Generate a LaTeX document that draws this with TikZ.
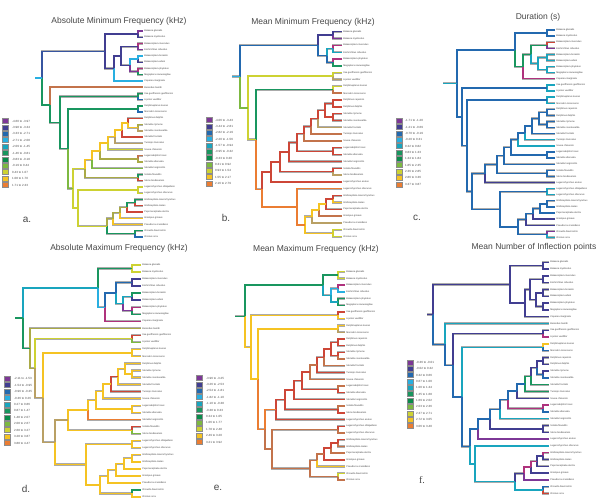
\documentclass[tikz,border=0pt]{standalone}
\usepackage{fontspec}
\setmainfont{Liberation Sans}
\newfontfamily\serifpl{Liberation Serif}
\usetikzlibrary{calc}
\definecolor{kP}{RGB}{125,55,150}
\definecolor{kI}{RGB}{65,62,145}
\definecolor{kB}{RGB}{35,105,175}
\definecolor{kL}{RGB}{40,175,225}
\definecolor{kC}{RGB}{25,165,190}
\definecolor{kG}{RGB}{25,150,95}
\definecolor{kD}{RGB}{10,140,75}
\definecolor{kLG}{RGB}{125,185,65}
\definecolor{kY}{RGB}{205,210,50}
\definecolor{kO}{RGB}{245,195,35}
\definecolor{kR}{RGB}{235,125,50}
\definecolor{kred}{RGB}{205,70,55}
\definecolor{kbrown}{RGB}{195,115,75}
\definecolor{ktan}{RGB}{185,160,100}
\definecolor{kolive}{RGB}{170,170,70}
\definecolor{kmag}{RGB}{175,50,125}
\definecolor{kBI}{RGB}{55,85,160}
\colorlet{lc0}{kP}\colorlet{lc1}{kI}\colorlet{lc2}{kB}\colorlet{lc3}{kL}
\colorlet{lc4}{kC}\colorlet{lc5}{kG}\colorlet{lc6}{kD}\colorlet{lc7}{kLG}
\colorlet{lc8}{kY}\colorlet{lc9}{kO}\colorlet{lc10}{kR}
\tikzset{
 brg/.style={line width=2.2pt, draw=black!33},
 brc/.style={line width=1.35pt},
 tiplab/.style={anchor=west, inner sep=0pt, xshift=1.2pt, font=\fontsize{2.4}{2.6}\selectfont, text=black!75},
 legtxt/.style={anchor=west, inner sep=0pt, font=\fontsize{3}{3.2}\selectfont, text=black!70},
 ttl/.style={font=\fontsize{8.5}{10}\selectfont, text=black!72},
 plab/.style={font=\fontsize{10}{12}\selectfont, text=black!72},
}
\newcommand\Jg[6]{\path let \p1=(#3), \p2=(#4) in ({#2pt},{0.5*(\y1+\y2)}) coordinate (#1); \draw[brg] (#1) |- (#3) (#1) |- (#4);}
\newcommand\Jc[6]{\draw[brc,#5] (#1) |- (#3); \draw[brc,#6] (#1) |- (#4);}
\newcommand\Sg[3]{\draw[brg] (#1) -- ++(-#2,0);}
\newcommand\Sc[3]{\draw[brc,#3] (#1) -- ++(-#2,0);}
\newcommand\tree[1]{\let\Nd\Jg\let\Rt\Sg #1\let\Nd\Jc\let\Rt\Sc #1}
\newcommand\tips[5]{\foreach \tn [count=\ii from 0] in {#5}{\coordinate (#1\ii) at (#2,{#3+#4*\ii}); \node[tiplab] at (#1\ii) {\tn};}}
\newcommand\lgnd[5]{\foreach \lt [count=\ii from 0] in {#5}{\pgfmathsetmacro\yy{#3+#4*\ii}\filldraw[fill=lc\ii,draw=black!45,line width=0.5pt] (#1,\yy-2.5) rectangle ++(6.5,5); \node[legtxt] at (#2,\yy) {\lt};}}
% ---------- tree a
\newcommand\treeA{%
\Nd{aBal}{138}{a0}{a1}{kP}{kI}%
\Nd{aMR}{138}{a2}{a3}{kmag}{kP}%
\Nd{aBE}{138}{a4}{a5}{kL}{kI}%
\Nd{aPN}{138}{a6}{a7}{kmag}{kG}%
\Nd{aBN}{130}{aBE}{aPN}{kL}{kP}%
\Nd{aR}{121}{aMR}{aBN}{kI}{kI}%
\Nd{aC}{114}{aR}{a8}{kI}{kL}%
\Nd{aM}{105}{aBal}{aC}{kI}{kI}%
\Nd{aIL}{138}{a10}{a11}{kG}{kB}%
\Nd{aDM}{138}{a12}{a13}{kG}{kB}%
\Nd{aCC}{138}{a15}{a16}{kolive}{ktan}%
\Nd{aU1}{128}{a14}{aCC}{kred}{kO}%
\Nd{aU2}{122}{aU1}{a17}{kO}{kred}%
\Nd{aU3}{115}{aU2}{a18}{kO}{ktan}%
\Nd{aU4}{108}{aU3}{a19}{kO}{kY}%
\Nd{aLA}{138}{a20}{a21}{kbrown}{kolive}%
\Nd{aU5}{100}{aU4}{aLA}{kO}{kolive}%
\Nd{aU6}{92}{aU5}{a22}{kO}{kLG}%
\Nd{aSS}{138}{a23}{a24}{kG}{kred}%
\Nd{aU}{85}{aU6}{aSS}{kO}{kolive}%
\Nd{aLL}{138}{a25}{a26}{kY}{kY}%
\Nd{aGG}{135}{a27}{a28}{kG}{kred}%
\Nd{aG1}{127}{aGG}{a29}{kG}{kred}%
\Nd{aG2}{120}{aG1}{a30}{kolive}{kO}%
\Nd{aG3}{113}{aG2}{a31}{kolive}{kO}%
\Nd{aOO}{135}{a32}{a33}{kG}{kB}%
\Nd{aGl}{107}{aG3}{aOO}{kolive}{kG}%
\Nd{aL}{78}{aLL}{aGl}{kY}{kY}%
\Nd{aDD}{73}{aU}{aL}{kY}{kY}%
\Nd{aD}{68}{aDM}{aDD}{kG}{kLG}%
\Nd{aO2}{60}{aIL}{aD}{kG}{kG}%
\Nd{aO}{50}{a9}{aO2}{kbrown}{kG}%
\Nd{aR0}{42}{aM}{aO}{kBI}{kG}%
\Rt{aR0}{7}{kL}}
% ---------- tree b
\newcommand\treeB{%
\Nd{bBal}{333}{b0}{b1}{kI}{kP}%
\Nd{bMR}{333}{b2}{b3}{kmag}{kC}%
\Nd{bPN}{333}{b4}{b5}{kmag}{kG}%
\Nd{bR}{327}{bMR}{bPN}{kC}{kB}%
\Nd{bM}{318}{bBal}{bR}{kI}{kB}%
\Nd{bIL}{333}{b6}{b7}{kY}{ktan}%
\Nd{bDM}{333}{b8}{b9}{kY}{kbrown}%
\Nd{bDD2}{333}{b10}{b11}{kred}{kred}%
\Nd{bCC}{333}{b12}{b13}{kred}{kred}%
\Nd{bU1}{325}{bDD2}{bCC}{kred}{kred}%
\Nd{bU2}{318}{bU1}{b14}{kred}{ktan}%
\Nd{bU3}{311}{bU2}{b15}{kred}{kbrown}%
\Nd{bU4}{304}{bU3}{b16}{kred}{kbrown}%
\Nd{bLA}{333}{b17}{b18}{kred}{kred}%
\Nd{bU5}{297}{bU4}{bLA}{kred}{kred}%
\Nd{bU6}{289}{bU5}{b19}{kred}{kred}%
\Nd{bSS}{333}{b20}{b21}{kred}{ktan}%
\Nd{bU7}{280}{bU6}{bSS}{kred}{kred}%
\Nd{bU}{271}{bU7}{b22}{kred}{kred}%
\Nd{bGG}{333}{b24}{b25}{kred}{kO}%
\Nd{bG1}{326}{bGG}{b26}{kred}{kred}%
\Nd{bG2}{319}{bG1}{b27}{kO}{kbrown}%
\Nd{bG3}{312}{bG2}{b28}{kO}{ktan}%
\Nd{bOO}{333}{b29}{b30}{kY}{kY}%
\Nd{bGl}{305}{bG3}{bOO}{kO}{kO}%
\Nd{bL}{297}{b23}{bGl}{kR}{kR}%
\Nd{bDD}{262}{bU}{bL}{kred}{kR}%
\Nd{bD}{256}{bDM}{bDD}{kG}{kR}%
\Nd{bO}{248}{bIL}{bD}{kY}{kY}%
\Nd{bR0}{240}{bM}{bO}{kB}{kLG}%
\Rt{bR0}{8}{kL}}
% ---------- tree c
\newcommand\treeC{%
\Nd{cBal}{547}{c0}{c1}{kB}{kB}%
\Nd{cMR}{547}{c2}{c3}{kred}{kP}%
\Nd{cBE}{547}{c4}{c5}{kC}{kC}%
\Nd{cPN}{547}{c6}{c7}{kC}{kC}%
\Nd{cBN}{538}{cBE}{cPN}{kC}{kC}%
\Nd{cR}{531}{cMR}{cBN}{kG}{kC}%
\Nd{cC1}{523}{cR}{c8}{kG}{kmag}%
\Nd{cM}{515}{cBal}{cC1}{kB}{kG}%
\Nd{cIL}{547}{c9}{c10}{kC}{kC}%
\Nd{cDM}{547}{c11}{c12}{kC}{kC}%
\Nd{cDD2}{547}{c13}{c14}{kB}{kB}%
\Nd{cCC}{547}{c15}{c16}{kB}{kB}%
\Nd{cU1}{539}{cDD2}{cCC}{kB}{kB}%
\Nd{cU2}{532}{cU1}{c17}{kB}{kB}%
\Nd{cU3}{525}{cU2}{c18}{kB}{kC}%
\Nd{cU4}{518}{cU3}{c19}{kB}{kC}%
\Nd{cLA}{547}{c20}{c21}{kB}{kB}%
\Nd{cU5}{511}{cU4}{cLA}{kB}{kB}%
\Nd{cU6}{504}{cU5}{c22}{kB}{kB}%
\Nd{cSS}{547}{c23}{c24}{kB}{kB}%
\Nd{cU7}{497}{cU6}{cSS}{kB}{kB}%
\Nd{cU}{485}{cU7}{c25}{kB}{kI}%
\Nd{cLL}{547}{c26}{c27}{kC}{kC}%
\Nd{cGG}{547}{c28}{c29}{kB}{kB}%
\Nd{cG1}{540}{cGG}{c30}{kB}{kB}%
\Nd{cG2}{533}{cG1}{c31}{kB}{kI}%
\Nd{cG3}{526}{cG2}{c32}{kB}{kI}%
\Nd{cOO}{547}{c33}{c34}{kP}{kC}%
\Nd{cGl}{518}{cG3}{cOO}{kB}{kB}%
\Nd{cL}{500}{cLL}{cGl}{kB}{kB}%
\Nd{cDD}{472}{cU}{cL}{kB}{kB}%
\Nd{cD}{467}{cDM}{cDD}{kB}{kB}%
\Nd{cO}{462}{cIL}{cD}{kB}{kB}%
\Nd{cR0}{457}{cM}{cO}{kB}{kB}%
\Rt{cR0}{14}{kC}}
% ---------- tree d
\newcommand\treeD{%
\Nd{dBal}{132}{d0}{d1}{kY}{kY}%
\Nd{dMR}{132}{d2}{d3}{kI}{kI}%
\Nd{dBE}{132}{d4}{d5}{kG}{kI}%
\Nd{dPN}{132}{d6}{d7}{kmag}{kG}%
\Nd{dBN}{123}{dBE}{dPN}{kC}{kP}%
\Nd{dR}{116}{dMR}{dBN}{kB}{kC}%
\Nd{dC1}{105}{dR}{d8}{kB}{kmag}%
\Nd{dM}{98}{dBal}{dC1}{kG}{kL}%
\Nd{dIL}{132}{d10}{d11}{kred}{kLG}%
\Nd{dDM}{132}{d12}{d13}{kO}{kO}%
\Nd{dCC}{132}{d15}{d16}{kO}{kO}%
\Nd{dU1}{125}{d14}{dCC}{kO}{kO}%
\Nd{dU2}{118}{dU1}{d17}{kO}{kO}%
\Nd{dU3}{111}{dU2}{d18}{kred}{kred}%
\Nd{dU4}{103}{dU3}{d19}{kO}{kO}%
\Nd{dLA}{132}{d20}{d21}{kO}{kO}%
\Nd{dU5}{96}{dU4}{dLA}{kO}{kO}%
\Nd{dU6}{88}{dU5}{d22}{kO}{kR}%
\Nd{dSS}{132}{d23}{d24}{kred}{kLG}%
\Nd{dU}{68}{dU6}{dSS}{kO}{kO}%
\Nd{dLL}{132}{d25}{d26}{kO}{kO}%
\Nd{dGG}{132}{d27}{d28}{kO}{kO}%
\Nd{dG1}{124}{dGG}{d29}{kO}{kO}%
\Nd{dG2}{116}{dG1}{d30}{kO}{kO}%
\Nd{dG3}{108}{dG2}{d31}{kO}{kO}%
\Nd{dOO}{132}{d32}{d33}{kG}{kO}%
\Nd{dGl}{100}{dG3}{dOO}{kO}{kO}%
\Nd{dL}{86}{dLL}{dGl}{kO}{kO}%
\Nd{dDD}{55}{dU}{dL}{ktan}{kO}%
\Nd{dD}{43}{dDM}{dDD}{kO}{ktan}%
\Nd{dO2}{35}{dIL}{dD}{kY}{ktan}%
\Nd{dO}{30}{d9}{dO2}{kolive}{kolive}%
\Nd{dR0}{23}{dM}{dO}{kC}{kG}%
\Rt{dR0}{8}{kG}}
% ---------- tree e
\newcommand\treeE{%
\Nd{eBal}{338}{e0}{e1}{kY}{kY}%
\Nd{eMR}{338}{e2}{e3}{kmag}{kL}%
\Nd{ePN}{338}{e4}{e5}{kG}{kG}%
\Nd{eR}{331}{eMR}{ePN}{kL}{kC}%
\Nd{eM}{323}{eBal}{eR}{kG}{kC}%
\Nd{eIL}{338}{e6}{e7}{kred}{kO}%
\Nd{eDM}{338}{e8}{e9}{kO}{ktan}%
\Nd{eDD2}{338}{e10}{e11}{kred}{kred}%
\Nd{eCC}{338}{e12}{e13}{kred}{kbrown}%
\Nd{eU1}{331}{eDD2}{eCC}{kred}{kred}%
\Nd{eU2}{324}{eU1}{e14}{kred}{kbrown}%
\Nd{eU3}{317}{eU2}{e15}{kred}{kred}%
\Nd{eU4}{310}{eU3}{e16}{kbrown}{kbrown}%
\Nd{eLA}{338}{e17}{e18}{kbrown}{kred}%
\Nd{eU5}{302}{eU4}{eLA}{kred}{kred}%
\Nd{eU6}{294}{eU5}{e19}{kred}{kred}%
\Nd{eSS}{338}{e20}{e21}{kbrown}{kred}%
\Nd{eU7}{285}{eU6}{eSS}{kred}{kred}%
\Nd{eU}{276}{eU7}{e22}{kred}{kred}%
\Nd{eLL}{338}{e23}{e24}{kred}{kbrown}%
\Nd{eGG}{338}{e25}{e26}{kred}{kbrown}%
\Nd{eG1}{331}{eGG}{e27}{kred}{kbrown}%
\Nd{eG2}{324}{eG1}{e28}{kred}{kred}%
\Nd{eG3}{317}{eG2}{e29}{kbrown}{kO}%
\Nd{eOO}{338}{e30}{e31}{kY}{kbrown}%
\Nd{eGl}{310}{eG3}{eOO}{kbrown}{kbrown}%
\Nd{eL}{272}{eLL}{eGl}{kbrown}{kbrown}%
\Nd{eDD}{265}{eU}{eL}{kR}{kbrown}%
\Nd{eD}{258}{eDM}{eDD}{kO}{kR}%
\Nd{eO}{251}{eIL}{eD}{kO}{kO}%
\Nd{eR0}{245}{eM}{eO}{kG}{kO}%
\Rt{eR0}{10}{kG}}
% ---------- tree f
\newcommand\treeF{%
\Nd{fBal}{543}{f0}{f1}{kI}{kI}%
\Nd{fMR}{543}{f2}{f3}{kI}{kI}%
\Nd{fBE}{543}{f4}{f5}{kI}{kI}%
\Nd{fPN}{543}{f6}{f7}{kI}{kI}%
\Nd{fBN}{536}{fBE}{fPN}{kI}{kI}%
\Nd{fR}{530}{fMR}{fBN}{kI}{kI}%
\Nd{fC1}{525}{fR}{f8}{kI}{kI}%
\Nd{fM}{510}{fBal}{fC1}{kI}{kI}%
\Nd{fIL}{543}{f10}{f11}{kI}{kmag}%
\Nd{fDM}{543}{f12}{f13}{kO}{kB}%
\Nd{fDD2}{543}{f14}{f15}{kI}{kI}%
\Nd{fCC}{543}{f16}{f17}{kI}{kB}%
\Nd{fU1}{537}{fDD2}{fCC}{kI}{kB}%
\Nd{fU2}{531}{fU1}{f18}{kI}{kG}%
\Nd{fU3}{525}{fU2}{f19}{kG}{kG}%
\Nd{fU4}{517}{fU3}{f20}{kB}{kI}%
\Nd{fLA}{543}{f21}{f22}{kmag}{kB}%
\Nd{fU5}{508}{fU4}{fLA}{kB}{kmag}%
\Nd{fU6}{500}{fU5}{f23}{kB}{kC}%
\Nd{fSS}{543}{f24}{f25}{kI}{kI}%
\Nd{fU7}{490}{fU6}{fSS}{kB}{kI}%
\Nd{fU}{478}{fU7}{f26}{kB}{kP}%
\Nd{fGG}{543}{f28}{f29}{kmag}{kI}%
\Nd{fG1}{537}{fGG}{f30}{kI}{kI}%
\Nd{fG2}{531}{fG1}{f31}{kmag}{kI}%
\Nd{fG3}{524}{fG2}{f32}{kmag}{kP}%
\Nd{fOO}{543}{f33}{f34}{kB}{kred}%
\Nd{fGl}{515}{fG3}{fOO}{kI}{kC}%
\Nd{fL}{475}{f27}{fGl}{kC}{kC}%
\Nd{fDD}{470}{fU}{fL}{kB}{kC}%
\Nd{fD}{462}{fDM}{fDD}{kC}{kB}%
\Nd{fO2}{453}{fIL}{fD}{kI}{kB}%
\Nd{fO}{445}{f9}{fO2}{kC}{kB}%
\Nd{fR0}{433}{fM}{fO}{kI}{kB}%
\Rt{fR0}{6}{kI}}
\begin{document}
\begin{tikzpicture}[x=1pt,y=-1pt]
\useasboundingbox (0,0) rectangle (600,499);
\fill[white] (0,0) rectangle (600,499);
% titles
\node[ttl] (ta) at (119,21) {Absolute Minimum Frequency (kHz)};
\node[ttl] (tb) at (313,22) {Mean Minimum Frequency (kHz)};
\node[ttl] (tc) at (538,17) {Duration (s)};
\node[ttl] (td) at (119,248) {Absolute Maximum Frequency (kHz)};
\node[ttl] (te) at (316,249) {Mean Maximum Frequency (kHz)};
\node[ttl] (tf) at (534,247) {Mean Number of Inflection points};
% panel letters
\node[plab] (la) at (27,220) {a.};
\node[plab] (lb) at (226,218) {b.};
\node[plab] (lc) at (417,218) {c.};
\node[plab] (ld) at (26,489) {d.};
\node[plab] (le) at (218,488) {e.};
\node[plab,font=\serifpl\fontsize{10}{12}\selectfont] (lf) at (422,480) {f.};
% legends
\lgnd{2}{12}{121}{6.4}{-4.60 to -3.97,-3.98 to -3.34,-3.33 to -2.71,-2.71 to -2.08,-2.09 to -1.45,-1.46 to -0.81,-0.83 to -0.18,-0.19 to 0.44,0.43 to 1.07,1.08 to 1.70,1.71 to 2.33}
\lgnd{206}{215}{120}{6.33}{-4.06 to -3.43,-3.44 to -2.81,-2.82 to -2.19,-2.20 to -1.56,-1.57 to -0.94,-0.95 to -0.32,-0.33 to 0.30,0.31 to 0.92,0.93 to 1.54,1.55 to 2.17,2.16 to 2.79}
\lgnd{396}{405}{120.7}{6.36}{-1.71 to -1.20,-1.21 to -0.69,-0.70 to -0.19,-0.20 to 0.31,0.32 to 0.82,0.83 to 1.33,1.34 to 1.84,1.85 to 2.35,2.36 to 2.85,2.86 to 3.36,3.37 to 3.87}
\lgnd{4}{14}{378.7}{6.43}{-2.11 to -1.53,-1.54 to -0.95,-0.96 to -0.35,-0.36 to 0.26,0.27 to 0.86,0.87 to 1.47,1.48 to 2.07,2.08 to 2.67,2.68 to 3.27,3.28 to 3.87,3.88 to 4.47}
\lgnd{196}{206}{378}{6.4}{-3.96 to -3.25,-3.26 to -2.53,-2.54 to -1.81,-1.82 to -1.10,-1.10 to -0.38,-0.38 to 0.33,0.34 to 1.05,1.06 to 1.77,1.78 to 2.48,2.49 to 3.20,3.21 to 3.92}
\lgnd{407}{416}{362.3}{6.37}{-0.36 to -0.01,-0.02 to 0.32,0.32 to 0.66,0.67 to 1.00,1.00 to 1.34,1.35 to 1.68,1.69 to 2.02,2.03 to 2.36,2.37 to 2.71,2.72 to 3.05,3.06 to 3.40}
% tips
\tips{a}{143}{31}{6.24}{Balaena glacialis,Balaena mysticetus,Balaenoptera musculus,Eschrichtius robustus,Balaenoptera borealis,Balaenoptera edeni,Balaenoptera physalus,Megaptera novaeangliae,Caperea marginata,Berardius bairdii,Inia geoffrensis geoffrensis,Lipotes vexillifer,Delphinapterus leucas,Monodon monoceros,Delphinus delphis,Stenella clymene,Stenella coeruleoalba,Stenella frontalis,Tursiops truncatus,Sousa chinensis,Lagenodelphis hosei,Stenella attenuata,Stenella longirostris,Sotalia fluviatilis,Steno bredanensis,Lagenorhynchus obliquidens,Lagenorhynchus obscurus,Globicephala macrorhynchus,Globicephala melas,Peponocephala electra,Grampus griseus,Pseudorca crassidens,Orcaella brevirostris,Orcinus orca}
\tips{b}{342}{31.7}{6.83}{Balaena glacialis,Balaena mysticetus,Balaenoptera musculus,Eschrichtius robustus,Balaenoptera physalus,Megaptera novaeangliae,Inia geoffrensis geoffrensis,Lipotes vexillifer,Delphinapterus leucas,Monodon monoceros,Delphinus capensis,Delphinus delphis,Stenella clymene,Stenella coeruleoalba,Stenella frontalis,Tursiops truncatus,Sousa chinensis,Lagenodelphis hosei,Stenella attenuata,Stenella longirostris,Sotalia fluviatilis,Steno bredanensis,Lagenorhynchus acutus,Lagenorhynchus obscurus,Globicephala macrorhynchus,Globicephala melas,Peponocephala electra,Grampus griseus,Pseudorca crassidens,Orcaella brevirostris,Orcinus orca}
\tips{c}{555}{30}{6.1}{Balaena glacialis,Balaena mysticetus,Balaenoptera musculus,Eschrichtius robustus,Balaenoptera borealis,Balaenoptera edeni,Balaenoptera physalus,Megaptera novaeangliae,Caperea marginata,Inia geoffrensis geoffrensis,Lipotes vexillifer,Delphinapterus leucas,Monodon monoceros,Delphinus capensis,Delphinus delphis,Stenella clymene,Stenella coeruleoalba,Stenella frontalis,Tursiops truncatus,Sousa chinensis,Lagenodelphis hosei,Stenella attenuata,Stenella longirostris,Sotalia fluviatilis,Steno bredanensis,Lagenorhynchus acutus,Lagenorhynchus obliquidens,Lagenorhynchus obscurus,Globicephala macrorhynchus,Globicephala melas,Peponocephala electra,Grampus griseus,Pseudorca crassidens,Orcaella brevirostris,Orcinus orca}
\tips{d}{141}{265}{7.03}{Balaena glacialis,Balaena mysticetus,Balaenoptera musculus,Eschrichtius robustus,Balaenoptera borealis,Balaenoptera edeni,Balaenoptera physalus,Megaptera novaeangliae,Caperea marginata,Berardius bairdii,Inia geoffrensis geoffrensis,Lipotes vexillifer,Delphinapterus leucas,Monodon monoceros,Delphinus delphis,Stenella clymene,Stenella coeruleoalba,Stenella frontalis,Tursiops truncatus,Sousa chinensis,Lagenodelphis hosei,Stenella attenuata,Stenella longirostris,Sotalia fluviatilis,Steno bredanensis,Lagenorhynchus obliquidens,Lagenorhynchus obscurus,Globicephala macrorhynchus,Globicephala melas,Peponocephala electra,Grampus griseus,Pseudorca crassidens,Orcaella brevirostris,Orcinus orca}
\tips{e}{345}{271.7}{6.72}{Balaena glacialis,Balaena mysticetus,Balaenoptera musculus,Eschrichtius robustus,Balaenoptera physalus,Megaptera novaeangliae,Inia geoffrensis geoffrensis,Lipotes vexillifer,Delphinapterus leucas,Monodon monoceros,Delphinus capensis,Delphinus delphis,Stenella clymene,Stenella coeruleoalba,Stenella frontalis,Tursiops truncatus,Sousa chinensis,Lagenodelphis hosei,Stenella attenuata,Stenella longirostris,Sotalia fluviatilis,Steno bredanensis,Lagenorhynchus acutus,Lagenorhynchus obliquidens,Lagenorhynchus obscurus,Globicephala macrorhynchus,Globicephala melas,Peponocephala electra,Grampus griseus,Pseudorca crassidens,Orcaella brevirostris,Orcinus orca}
\tips{f}{549}{262.3}{6.8}{Balaena glacialis,Balaena mysticetus,Balaenoptera musculus,Eschrichtius robustus,Balaenoptera borealis,Balaenoptera edeni,Balaenoptera physalus,Megaptera novaeangliae,Caperea marginata,Berardius bairdii,Inia geoffrensis geoffrensis,Lipotes vexillifer,Delphinapterus leucas,Monodon monoceros,Delphinus capensis,Delphinus delphis,Stenella clymene,Stenella coeruleoalba,Stenella frontalis,Tursiops truncatus,Sousa chinensis,Lagenodelphis hosei,Stenella attenuata,Stenella longirostris,Sotalia fluviatilis,Steno bredanensis,Lagenorhynchus acutus,Lagenorhynchus obscurus,Globicephala macrorhynchus,Globicephala melas,Peponocephala electra,Grampus griseus,Pseudorca crassidens,Orcaella brevirostris,Orcinus orca}
% trees
\tree{\treeA}
\tree{\treeB}
\tree{\treeC}
\tree{\treeD}
\tree{\treeE}
\tree{\treeF}
\end{tikzpicture}
\end{document}
